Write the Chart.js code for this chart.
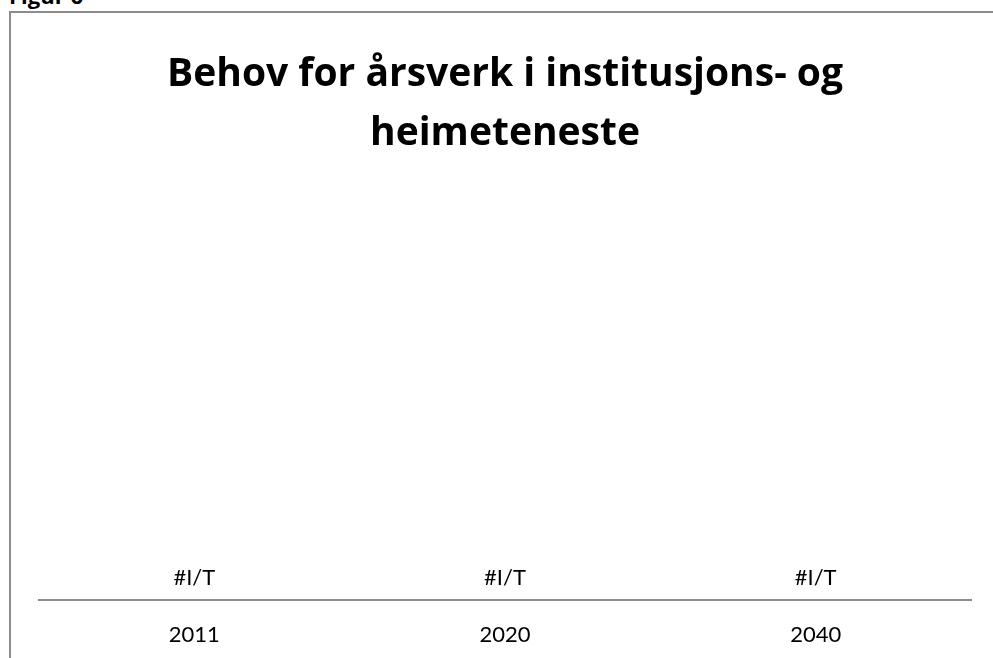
<!DOCTYPE html>
<html>
<head>
<meta charset="utf-8">
<script src="https://cdn.jsdelivr.net/npm/chart.js@4"></script>
<style>
  html, body { margin: 0; padding: 0; background: #fff; overflow: hidden; }
  body { width: 993px; height: 658px; position: relative; font-family: Lato, sans-serif; }
  .fig { position: absolute; left: 9px; top: -20px; font: bold 22px "Open Sans", sans-serif; color: #000; }
  .frame { position: absolute; left: 9px; top: 11px; width: 1000px; height: 700px;
           border-left: 2px solid #8c8c8c; border-top: 2px solid #8c8c8c; box-sizing: border-box; }
  .wrap { position: absolute; left: 11px; top: 13px; width: 982px; height: 649px; }
</style>
</head>
<body>
<div class="fig">Figur 6</div>
<div class="frame"></div>
<div class="wrap"><canvas id="chart"></canvas></div>
<script>
document.addEventListener('DOMContentLoaded', function () {
// ============= data =====================
    const years = ['2011', '2020', '2040'];
    const arsverk = [null, null, null];          // no values in the source (#I/T)
    const valueLabels = ['#I/T', '#I/T', '#I/T'];
    const titleLines = ['Behov for årsverk i institusjons- og', 'heimeteneste'];

// ============= labels at the bars ===============
    const naLabels = {
        id: 'naLabels',
        afterDatasetsDraw(chart) {
            const ctx = chart.ctx;
            const x = chart.scales.x, y = chart.scales.y;
            ctx.save();
            ctx.font = '22px Lato, sans-serif';
            ctx.fillStyle = '#000';
            ctx.textAlign = 'center';
            ctx.textBaseline = 'middle';
            valueLabels.forEach((t, i) => {
                ctx.fillText(t, x.getPixelForValue(i), y.getPixelForValue(0) - 22);
            });
            ctx.restore();
        }
    };

// ============= chart =====================
    const ctx = document.querySelector('#chart').getContext('2d');
    const chart = new Chart(ctx, {
        type: 'bar',
        data: {
            labels: years,
            datasets: [{
                label: 'Årsverk',
                data: arsverk,
                backgroundColor: '#4f81bd'
            }]
        },
        options: {
            responsive: true,
            maintainAspectRatio: false,
            animation: false,
            layout: { padding: { left: 28, right: 22, top: 0, bottom: 0 } },
            plugins: {
                legend: { display: false },
                tooltip: { enabled: false },
                title: {
                    display: true,
                    text: titleLines,
                    color: '#000',
                    font: { family: '"Open Sans", sans-serif', size: 39, weight: 'bold', lineHeight: 1.52 },
                    padding: { top: 32, bottom: 20 }
                }
            },
            scales: {
                x: {
                    grid: { display: false },
                    border: { display: true, color: '#8c8c8c', width: 2 },
                    ticks: { color: '#000', font: { family: 'Lato, sans-serif', size: 22 }, padding: 14 }
                },
                y: {
                    display: false,
                    beginAtZero: true,
                    min: 0
                }
            }
        },
        plugins: [naLabels]
    });
});
</script>
</body>
</html>
